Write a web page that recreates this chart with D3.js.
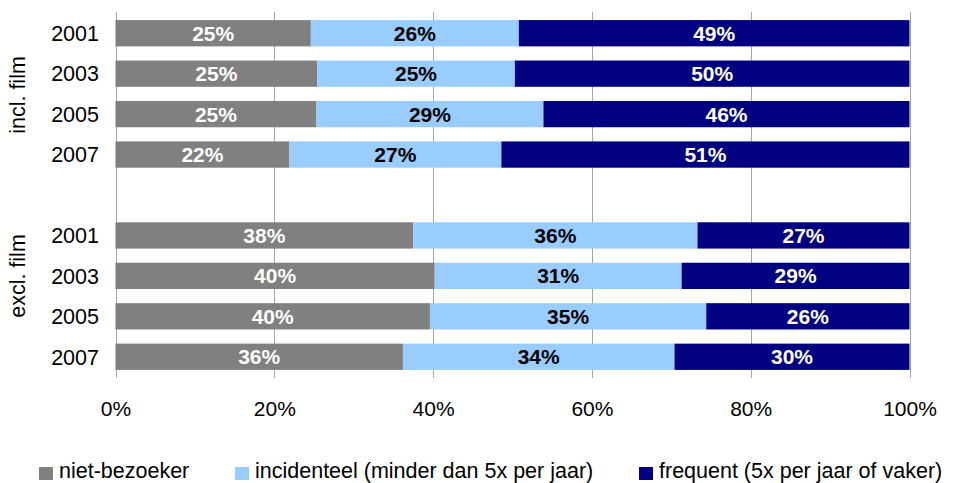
<!DOCTYPE html>
<html>
<head>
<meta charset="utf-8">
<script src="https://cdn.jsdelivr.net/npm/d3@7"></script>
<style>
  html, body { margin: 0; padding: 0; background: #fff; }
  svg { display: block; font-family: "Liberation Sans", Arial, sans-serif; }
</style>
</head>
<body>
<svg id="chart" width="955" height="483"></svg>
<script>
// ---- data ----
const groups = ["incl. film", "excl. film"];
const years = ["2001", "2003", "2005", "2007"];
const seriesNames = ["niet-bezoeker", "incidenteel (minder dan 5x per jaar)", "frequent (5x per jaar of vaker)"];
const nietBezoeker = [24.6, 25.4, 25.3, 21.9, 37.5, 40.2, 39.6, 36.2];
const incidenteel  = [26.2, 24.9, 28.6, 26.7, 35.8, 31.1, 34.8, 34.2];
const frequent     = [49.2, 49.7, 46.1, 51.4, 26.7, 28.7, 25.6, 29.6];
const tickValues = [0, 20, 40, 60, 80, 100];
const colors = ["#808080", "#99ccff", "#000080"];
const labelColors = ["#ffffff", "#000000", "#ffffff"];

// ---- layout ----
const svg = d3.select("#chart");
const plotLeft = 115.5, plotRight = 909.5, plotTop = 12, plotBottom = 378;

// slots: 4 incl years, one blank, 4 excl years
const slots = [];
groups.forEach((g, gi) => {
  years.forEach((y, yi) => slots.push({ key: g + "|" + y, year: y, group: g, idx: gi * years.length + yi }));
  if (gi < groups.length - 1) slots.push({ key: "blank" + gi, blank: true });
});

const x = d3.scaleLinear().domain([0, 100]).range([plotLeft, plotRight]);
const yScale = d3.scaleBand().domain(slots.map(s => s.key)).range([plotTop, plotBottom])
  .paddingInner(0.35).paddingOuter(0.2);

// gridlines
svg.append("g").selectAll("line").data(tickValues).join("line")
  .attr("x1", d => Math.round(x(d)) + 0.5).attr("x2", d => Math.round(x(d)) + 0.5)
  .attr("y1", plotTop).attr("y2", plotBottom)
  .attr("stroke", "#a6a6a6").attr("stroke-width", 1);

// stacked data
const rows = slots.filter(s => !s.blank).map(s => ({
  key: s.key, year: s.year, group: s.group,
  v0: nietBezoeker[s.idx], v1: incidenteel[s.idx], v2: frequent[s.idx]
}));
const stack = d3.stack().keys(["v0", "v1", "v2"]).offset(d3.stackOffsetExpand);
const stacked = stack(rows);

const segG = svg.append("g");
stacked.forEach((layer, li) => {
  segG.append("g").selectAll("rect").data(layer).join("rect")
    .attr("x", d => x(d[0] * 100))
    .attr("width", d => x(d[1] * 100) - x(d[0] * 100))
    .attr("y", d => yScale(d.data.key))
    .attr("height", yScale.bandwidth())
    .attr("fill", colors[li]);
  segG.append("g").selectAll("text").data(layer).join("text")
    .attr("x", d => (x(d[0] * 100) + x(d[1] * 100)) / 2)
    .attr("y", d => yScale(d.data.key) + yScale.bandwidth() / 2)
    .attr("dy", "0.36em")
    .attr("text-anchor", "middle")
    .attr("font-size", 21).attr("font-weight", "bold")
    .attr("fill", labelColors[li])
    .text(d => Math.round(d.data[layer.key]) + "%");
});

// year labels
svg.append("g").selectAll("text").data(rows).join("text")
  .attr("x", 99)
  .attr("y", d => yScale(d.key) + yScale.bandwidth() / 2)
  .attr("dy", "0.36em")
  .attr("text-anchor", "end")
  .attr("font-size", 21.5).attr("fill", "#000")
  .text(d => d.year);

// group labels
const groupCenters = [95, 276];
svg.append("g").selectAll("text").data(groups).join("text")
  .attr("transform", (d, i) => `translate(25,${groupCenters[i]}) rotate(-90)`)
  .attr("text-anchor", "middle")
  .attr("font-size", 21.5).attr("fill", "#000")
  .text(d => d);

// x axis tick labels
const xAxis = d3.axisBottom(x).tickValues(tickValues).tickFormat(d => d + "%").tickSize(0).tickPadding(0);
const ax = svg.append("g").attr("transform", "translate(0,401)").call(xAxis);
ax.select(".domain").remove();
ax.selectAll("text").attr("font-size", 21).attr("font-family", "Liberation Sans, Arial, sans-serif").attr("fill", "#000");

// legend
const legendX = [39, 235, 639];
const lg = svg.append("g").selectAll("g").data(seriesNames).join("g")
  .attr("transform", (d, i) => `translate(${legendX[i]},467)`);
lg.append("rect").attr("width", 14).attr("height", 13).attr("fill", (d, i) => colors[i]);
lg.append("text").attr("x", 20).attr("y", 10.5)
  .attr("font-size", 21.5).attr("fill", "#000").text(d => d);
</script>
</body>
</html>
